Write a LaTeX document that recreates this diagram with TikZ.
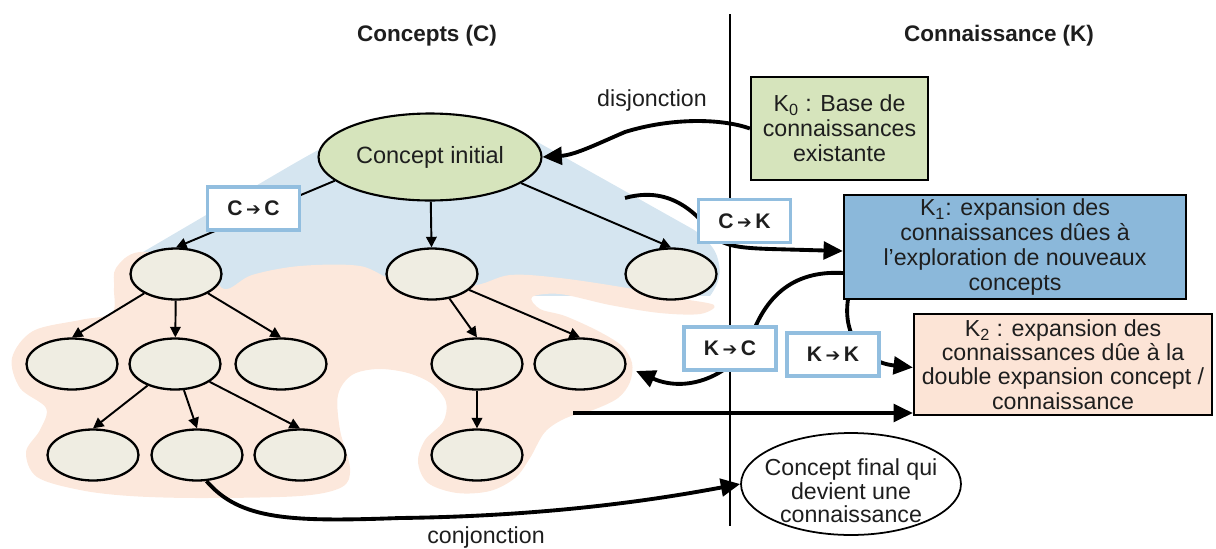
\documentclass[tikz,border=0pt]{standalone}
\usepackage{fontspec}
\setmainfont{Liberation Sans}
\newfontfamily\dejavu{DejaVu Sans}
\usetikzlibrary{arrows.meta,shapes.geometric,calc}
\definecolor{bluebg}{HTML}{D5E5F0}
\definecolor{peachbg}{HTML}{FCE8DC}
\definecolor{ellfill}{HTML}{EFEDE2}
\definecolor{greenfill}{HTML}{D6E4BC}
\definecolor{kblue}{HTML}{8BB8DA}
\definecolor{kpeach}{HTML}{FCE4D6}
\definecolor{lblborder}{HTML}{92BEDF}
\definecolor{txtcol}{HTML}{1E1E1E}
\newcommand{\myarr}{{\dejavu\fontsize{10}{12}\selectfont ➔}}
\begin{document}
\begin{tikzpicture}[x=0.02cm,y=-0.02cm,
  txt/.style={font=\fontsize{13.2}{14.2}\selectfont, align=center, text=txtcol, inner sep=0pt},
  title/.style={font=\bfseries\fontsize{12.8}{14}\selectfont, text=txtcol, inner sep=0pt},
  ell/.style={ellipse, draw, line width=1.3pt, fill=ellfill, minimum width=1.82cm, minimum height=1.02cm, inner sep=0pt},
  kbox/.style={rectangle, draw, line width=1.3pt, inner sep=2pt, align=center, text=txtcol, font=\fontsize{13.2}{14.2}\selectfont},
  lbl/.style={rectangle, draw=lblborder, line width=1.9pt, fill=white, minimum width=1.84cm, minimum height=0.86cm, inner sep=0pt, font=\bfseries\fontsize{12}{14}\selectfont, text=txtcol},
  tedge/.style={line width=1.1pt, -{Triangle[length=6pt,width=6pt]}},
  bigarrow/.style={line width=2.2pt, -{Triangle[length=11pt,width=10pt]}}
]
\useasboundingbox (0,0) rectangle (1216,548);

% background regions
\fill[bluebg, rounded corners=0.3cm] (126,262) -- (300,160) -- (340,138) -- (430,116) -- (525,135) -- (705,236) -- (722,262) -- (716,292) -- (700,306) -- (560,300) -- (200,300) -- cycle;
\fill[white] (530,296) rectangle (728,420);
\fill[peachbg] plot[smooth cycle, tension=0.55] coordinates {
 (116,268) (140,252) (200,262) (224,289) (252,275) (300,266) (360,266) (400,282) (470,286) (510,275) (560,278) (627,288) (677,298) (714,305) (700,314) (660,313) (610,305) (560,294) (532,297) (540,309) (565,316) (598,331) (622,346) (632,363) (630,382) (618,398) (593,410) (566,418) (545,432) (530,458) (515,478) (490,491) (457,493) (428,483) (418,462) (425,440) (443,422) (446,402) (432,384) (408,373) (378,369) (352,375) (338,395) (340,430) (350,468) (342,487) (300,496) (200,498) (130,496) (80,490) (37,477) (26,452) (40,430) (46,408) (20,388) (12,358) (33,331) (80,320) (112,313) (114,288)};

% divider
\coordinate (dtop) at (730,14);
\coordinate (dbot) at (730,526);
\draw[line width=1.1pt] (dtop) -- (dbot);

% titles
\node[title] (tc) at (427,36) {Concepts (C)};
\node[title] (tk) at (999,36) {Connaissance (K)};

% concept tree
\node[ell, fill=greenfill, line width=1.2pt, minimum width=4.46cm, minimum height=1.74cm, font=\fontsize{13.4}{14.2}\selectfont, text=txtcol] (ci) at (430,157) {Concept initial};
\node[ell] (l1a) at (176,274) {};
\node[ell] (l1b) at (432,274) {};
\node[ell] (l1c) at (671,274) {};
\node[ell] (l2a) at (72,364) {};
\node[ell] (l2b) at (175,364) {};
\node[ell] (l2c) at (281,364) {};
\node[ell] (l2d) at (477,364) {};
\node[ell] (l2e) at (580,364) {};
\node[ell] (l3a) at (93,455) {};
\node[ell] (l3b) at (197,455) {};
\node[ell] (l3c) at (300,455) {};
\node[ell] (l3d) at (477,455) {};

\draw[tedge] (ci.194) -- (l1a.north);
\draw[tedge] (ci) -- (l1b);
\draw[tedge] (ci.344) -- (l1c.north);
\draw[tedge] (l1a) -- (l2a.north);
\draw[tedge] (l1a) -- (l2b);
\draw[tedge] (l1a) -- (l2c.north);
\draw[tedge] (l2b) -- (l3a.north);
\draw[tedge] (l2b) -- (l3b.north);
\draw[tedge] (l2b) -- (l3c.north);
\draw[tedge] (l1b) -- (l2d.north);
\draw[tedge] (l1b) -- (l2e.north);
\draw[tedge] (l2d) -- (l3d);

% knowledge boxes
\node[kbox, fill=greenfill, minimum width=3.54cm, minimum height=2.06cm] (k0) at (839.5,128.5) {K\textsubscript{0} : Base de\\connaissances\\existante};
\node[kbox, fill=kblue, minimum width=6.84cm, minimum height=2.04cm] (k1) at (1015,247) {K\textsubscript{1}: expansion des\\connaissances dûes à\\l’exploration de nouveaux\\concepts};
\node[kbox, fill=kpeach, minimum width=5.96cm, minimum height=2.02cm, font=\fontsize{13.2}{13.8}\selectfont] (k2) at (1063,364.5) {K\textsubscript{2} : expansion des\\connaissances dûe à la\\double expansion concept /\\connaissance};

% concept final
\node[ellipse, draw, line width=1pt, fill=white, minimum width=4.4cm, minimum height=2.04cm, inner sep=0pt] (cf) at (851,484) {};
\node[txt, font=\fontsize{13.2}{13.4}\selectfont] (cft) at (851,491) {Concept final qui\\devient une\\connaissance};

% labels of thick connectors
\node[txt] (dis) at (652,101) {disjonction};
\node[txt] (con) at (486,537) {conjonction};

% thick connectors
\draw[bigarrow] (k0.west) .. controls (720,118) and (670,118) .. (625,132) .. controls (597,144) and (575,155) .. (ci.east);
\coordinate (ckstart) at (625,198);
\draw[bigarrow] (ckstart) .. controls (668,186) and (695,210) .. (715,237) .. controls (725,246) and (740,248) .. (770,249) -- ($(k1.west)+(0,4)$);
\coordinate (kcstart) at ($(k1.west)+(0,26)$);
\coordinate (kcend) at (636,371);
\draw[bigarrow] (kcstart) .. controls (790,270) and (765,300) .. (752,335) .. controls (738,372) and (690,395) .. (kcend);
\coordinate (kkstart) at ($(k1.south west)+(5,0)$);
\draw[bigarrow] (kkstart) .. controls (843,335) and (862,362) .. ($(k2.west)+(0,3)$);
\coordinate (hstart) at (573,413);
\draw[bigarrow] (hstart) -- (hstart -| k2.west);
\draw[bigarrow] (l3b.290) .. controls (240,520) and (290,522) .. (400,518) .. controls (560,516) and (670,497) .. (cf.west);

% link-type boxes
\node[lbl] (cc) at (253.5,208.5) {C\,\myarr\,C};
\node[lbl] (ck) at (744.5,221) {C\,\myarr\,K};
\node[lbl] (kc) at (730,348.5) {K\,\myarr\,C};
\node[lbl] (kk) at (833,354.5) {K\,\myarr\,K};
\end{tikzpicture}
\end{document}
